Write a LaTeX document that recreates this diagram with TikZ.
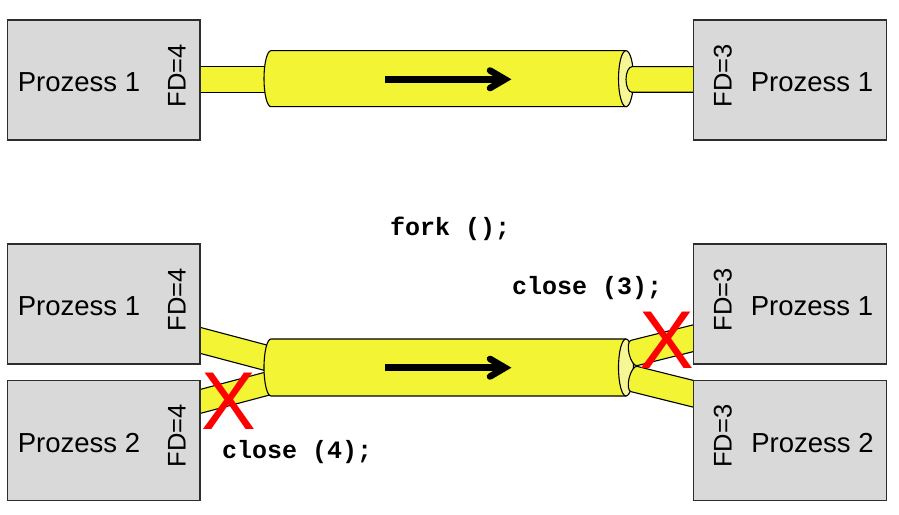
\documentclass[tikz,border=0pt]{standalone}
\usepackage{fontspec}
\setmainfont{Liberation Sans}
\newfontfamily\codefont{Liberation Mono}
\definecolor{pipeyellow}{RGB}{242,244,52}
\definecolor{pipelight}{RGB}{246,246,150}
\definecolor{boxgray}{RGB}{217,217,217}
\definecolor{boxline}{RGB}{45,45,45}
\tikzset{
  pipe/.style={fill=pipeyellow,draw=black,line width=1.1bp},
  pipefill/.style={fill=pipeyellow},
  pipeline/.style={draw=black,line width=1.1bp},
  endface/.style={fill=pipelight,draw=black,line width=1.1bp},
  procbox/.style={draw=boxline,fill=boxgray,line width=1.3bp,rectangle,inner sep=0pt},
  proclabel/.style={font=\fontsize{27.5bp}{32bp}\selectfont,anchor=base,inner sep=0pt},
  fdlabel/.style={font=\fontsize{25.5bp}{30bp}\selectfont,anchor=base,rotate=90,inner sep=0pt},
  codelabel/.style={font=\codefont\bfseries\fontsize{25bp}{30bp}\selectfont,anchor=base west,inner sep=0pt},
  crossmark/.style={font=\fontsize{82bp}{90bp}\selectfont,text=red,anchor=base,inner sep=0pt},
  flowshaft/.style={line width=6.5bp,line cap=butt},
  flowhead/.style={line width=6.5bp,line cap=round,line join=miter},
}
\begin{document}
\begin{tikzpicture}[x=1bp,y=1bp]
\useasboundingbox (0,0) rectangle (899,-515);
\fill[white] (0,0) rectangle (899,-515);

% ================= top: one pipe =================
% left thin pipe
\draw[pipe] (198,-66.7) rectangle (276,-92.3);
% cylinder body
\fill[pipefill] (271,-50.7) -- (626,-50.7) -- (626,-106.7) -- (271,-106.7)
   arc[start angle=270,end angle=90,x radius=7,y radius=28] -- cycle;
\draw[pipeline] (626,-50.7) -- (271,-50.7)
   arc[start angle=90,end angle=270,x radius=7,y radius=28] -- (626,-106.7);
\draw[endface] (626,-78.7) ellipse[x radius=7.5,y radius=28];
% right thin pipe
\fill[pipefill] (700,-66.7) -- (632,-66.7)
   arc[start angle=90,end angle=270,x radius=6,y radius=12.8] -- (700,-92.3) -- cycle;
\draw[pipeline] (700,-66.7) -- (632,-66.7)
   arc[start angle=90,end angle=270,x radius=6,y radius=12.8] -- (700,-92.3);
% flow arrow
\draw[flowshaft] (385,-79.3) -- (503,-79.3);
\draw[flowhead] (490,-70.5) -- (505,-79.3) -- (490,-88.1);

% boxes
\node[procbox,minimum width=192.5bp,minimum height=120bp] (tl) at (103.75,-80) {};
\node[procbox,minimum width=193.4bp,minimum height=120bp] (tr) at (790,-80) {};
\node[proclabel] (tlname) at (79,-91.7) {Prozess 1};
\node[fdlabel] (tlfd) at (185.7,-76) {FD=4};
\node[proclabel] (trname) at (812,-91.7) {Prozess 1};
\node[fdlabel] (trfd) at (731.7,-76) {FD=3};

% ================= bottom: after fork =================
% left pipes
\draw[pipe] (198,-326.8) -- (275,-347.2) -- (275,-373.2) -- (198,-352.8) -- cycle;
\draw[pipe] (198,-390) -- (275,-369.6) -- (275,-393.6) -- (198,-414) -- cycle;
% cylinder
\fill[pipefill] (271,-339) -- (626,-339) -- (626,-396) -- (271,-396)
   arc[start angle=270,end angle=90,x radius=7,y radius=28.5] -- cycle;
\draw[pipeline] (626,-339) -- (271,-339)
   arc[start angle=90,end angle=270,x radius=7,y radius=28.5] -- (626,-396);
\draw[endface] (626,-367.5) ellipse[x radius=7.5,y radius=28.5];
% right pipes
\begin{scope}[shift={(634,-353)},rotate=14]
  \fill[pipefill] (72,13) -- (0,13) arc[start angle=90,end angle=270,x radius=5,y radius=13] -- (72,-13) -- cycle;
  \draw[pipeline] (72,13) -- (0,13) arc[start angle=90,end angle=270,x radius=5,y radius=13] -- (72,-13);
\end{scope}
\begin{scope}[shift={(634,-379)},rotate=-14]
  \fill[pipefill] (72,13) -- (0,13) arc[start angle=90,end angle=270,x radius=5,y radius=13] -- (72,-13) -- cycle;
  \draw[pipeline] (72,13) -- (0,13) arc[start angle=90,end angle=270,x radius=5,y radius=13] -- (72,-13);
\end{scope}
% flow arrow
\draw[flowshaft] (385,-367.7) -- (503,-367.7);
\draw[flowhead] (490,-358.9) -- (505,-367.7) -- (490,-376.5);

% boxes
\node[procbox,minimum width=192.5bp,minimum height=120bp] (bl1) at (103.75,-304) {};
\node[procbox,minimum width=192.5bp,minimum height=120bp] (bl2) at (103.75,-440.7) {};
\node[procbox,minimum width=193.4bp,minimum height=120bp] (br1) at (790,-304) {};
\node[procbox,minimum width=193.4bp,minimum height=120bp] (br2) at (790,-440.7) {};
\node[proclabel] (bl1name) at (79,-316) {Prozess 1};
\node[proclabel] (bl2name) at (79,-452.7) {Prozess 2};
\node[proclabel] (br1name) at (812,-316) {Prozess 1};
\node[proclabel] (br2name) at (812.5,-452.7) {Prozess 2};
\node[fdlabel] (bl1fd) at (185.7,-300) {FD=4};
\node[fdlabel] (bl2fd) at (185.7,-436) {FD=4};
\node[fdlabel] (br1fd) at (731.7,-300) {FD=3};
\node[fdlabel] (br2fd) at (731.7,-436.3) {FD=3};

% crosses
\node[crossmark] (xleft) at (228.5,-429) {X};
\node[crossmark] (xright) at (666.7,-368.5) {X};

% code labels
\node[codelabel] (fork) at (390,-236) {fork ();};
\node[codelabel] (close3) at (512,-295) {close (3);};
\node[codelabel] (close4) at (222,-458) {close (4);};
\end{tikzpicture}
\end{document}
